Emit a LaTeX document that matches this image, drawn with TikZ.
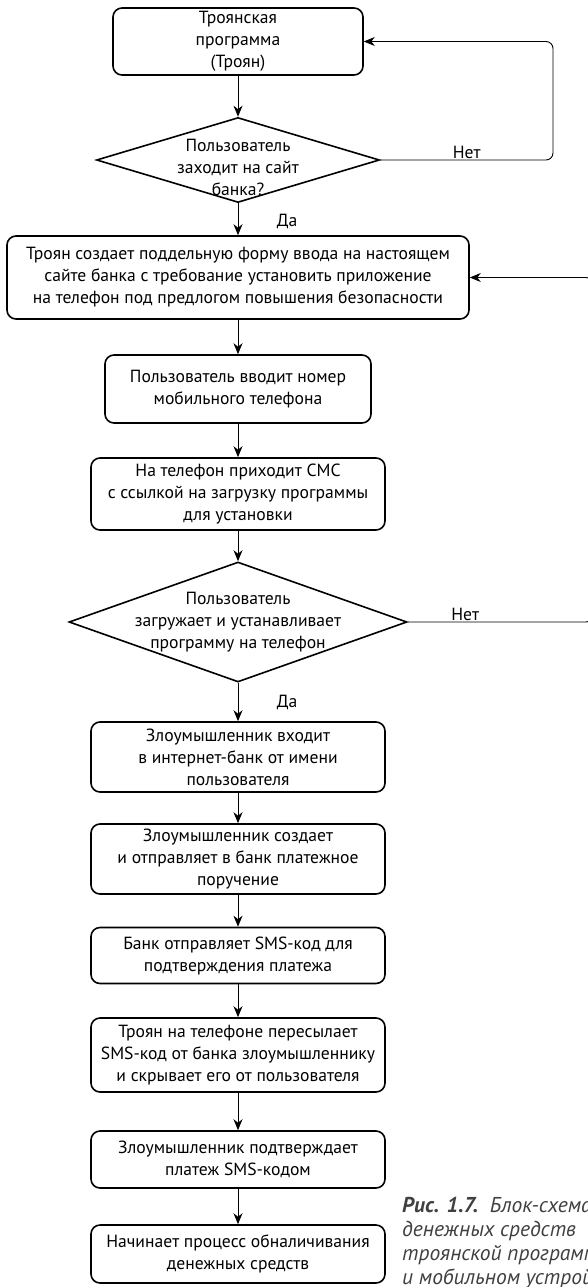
\documentclass[tikz,border=0pt]{standalone}
\usepackage{fontspec}
\setmainfont{PT Sans}
\usetikzlibrary{shapes.geometric,arrows.meta,positioning}
\newcommand{\flowfont}{\fontsize{17.6}{22}\selectfont}
\newcommand{\capfont}{\fontsize{21.5}{24}\selectfont}
\tikzset{
  block/.style={rectangle, rounded corners=9pt, draw, line width=1.6pt,
                align=center, inner sep=0pt, font=\flowfont},
  decision/.style={diamond, draw, line width=1.6pt, inner sep=0pt},
  qtext/.style={align=center, inner sep=0pt, font=\flowfont},
  lbl/.style={font=\flowfont, inner sep=1pt},
  arr/.style={-{Stealth[length=11pt,width=9pt,inset=3.5pt]}, line width=0.9pt},
  loopline/.style={arr, rounded corners=7pt},
}

\begin{document}
\begin{tikzpicture}[x=1pt,y=-1pt]
  \useasboundingbox (0,0) rectangle (587,1287);
  % top part
  \node[block, minimum width=250, minimum height=67] (trojan) at (238,41.5) {Троянская\\программа\\(Троян)};
  \node[decision, minimum width=283, minimum height=85] (visit) at (238,160) {};
  \node[qtext] (visittext) at (238,167) {Пользователь\\заходит на сайт\\банка?};
  \node[block, minimum width=462, minimum height=83] (fakeform) at (238,277.5)
    {Троян создает поддельную форму ввода на настоящем\\сайте банка с требование установить приложение\\на телефон под предлогом повышения безопасности};
  \node[block, minimum width=266, minimum height=68] (phone) at (238,389) {Пользователь вводит номер\\мобильного телефона};
  \node[block, minimum width=294, minimum height=72] (sms) at (238,494) {На телефон приходит СМС\\с ссылкой на загрузку программы\\для установки};
  \node[decision, minimum width=338, minimum height=120] (install) at (238,622) {};
  \node[qtext] (installtext) at (install) {Пользователь\\загружает и устанавливает\\программу на телефон};
  % bottom part
  \node[block, minimum width=294, minimum height=70] (login) at (238,757) {Злоумышленник входит\\в интернет-банк от имени\\пользователя};
  \node[block, minimum width=294, minimum height=70] (order) at (238,859) {Злоумышленник создает\\и отправляет в банк платежное\\поручение};
  \node[block, minimum width=294, minimum height=56] (bankcode) at (238,955.5) {Банк отправляет SMS-код для\\подтверждения платежа};
  \node[block, minimum width=294, minimum height=74] (forward) at (238,1055) {Троян на телефоне пересылает\\SMS-код от банка злоумышленнику\\и скрывает его от пользователя};
  \node[block, minimum width=294, minimum height=57] (confirm) at (238,1159.5) {Злоумышленник подтверждает\\платеж SMS-кодом};
  \node[block, minimum width=294, minimum height=58] (cashout) at (238,1254) {Начинает процесс обналичивания\\денежных средств};

  % answers
  \node[lbl] (yes1) at (287,221) {Да};
  \node[lbl] (yes2) at (287,702) {Да};

  % arrows down
  \draw[arr] (trojan) -- (visit);
  \draw[arr] (visit) -- (fakeform);
  \draw[arr] (fakeform) -- (phone);
  \draw[arr] (phone) -- (sms);
  \draw[arr] (sms) -- (install);
  \draw[arr] (install) -- (login);
  \draw[arr] (login) -- (order);
  \draw[arr] (order) -- (bankcode);
  \draw[arr] (bankcode) -- (forward);
  \draw[arr] (forward) -- (confirm);
  \draw[arr] (confirm) -- (cashout);

  % loops back
  \coordinate (loopA) at (553,0);
  \coordinate (loopB) at (593,0);
  \draw[loopline] (visit.east) -- node[lbl, above, pos=0.5] {Нет} (visit.east -| loopA) |- (trojan.east);
  \draw[loopline] (install.east) -- node[lbl, above, pos=0.31] {Нет} (install.east -| loopB) |- (fakeform.east);

  % caption
  \node[anchor=north west, align=left, inner sep=0pt, font=\capfont\itshape, text=black!75] (caption) at (402,1197)
    {\textbf{Рис. 1.7.}\ \ Блок-схема хищения\\денежных средств\\троянской программы на компьютере\\и мобильном устройстве};
\end{tikzpicture}
\end{document}
